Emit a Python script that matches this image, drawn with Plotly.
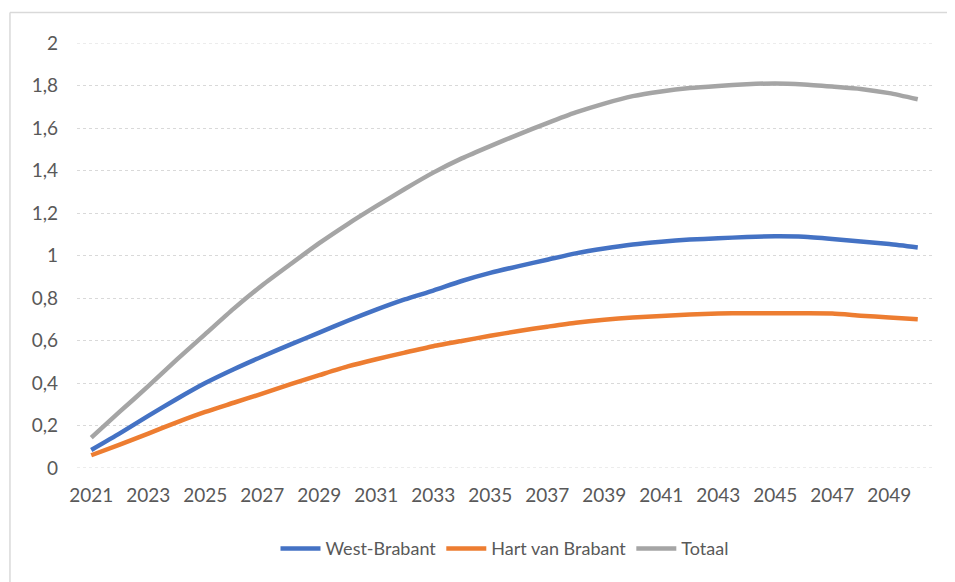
import plotly.graph_objects as go

years = list(range(2021, 2051))

west_brabant = [0.085, 0.163, 0.245, 0.325, 0.40, 0.465, 0.525, 0.582, 0.637, 0.693,
                0.745, 0.793, 0.835, 0.88, 0.918, 0.95, 0.98, 1.01, 1.033, 1.052,
                1.065, 1.075, 1.081, 1.087, 1.09, 1.088, 1.078, 1.066, 1.054, 1.038]

hart_van_brabant = [0.06, 0.11, 0.162, 0.215, 0.264, 0.307, 0.35, 0.395, 0.437, 0.478,
                    0.512, 0.543, 0.573, 0.598, 0.622, 0.645, 0.665, 0.684, 0.698, 0.708,
                    0.715, 0.722, 0.727, 0.728, 0.728, 0.728, 0.727, 0.717, 0.708, 0.70]

totaal = [0.143, 0.265, 0.385, 0.51, 0.63, 0.75, 0.86, 0.96, 1.058, 1.148,
          1.232, 1.313, 1.39, 1.457, 1.515, 1.57, 1.623, 1.673, 1.715, 1.75,
          1.772, 1.788, 1.798, 1.806, 1.81, 1.805, 1.795, 1.784, 1.764, 1.735]

x_ticks = list(range(2021, 2051, 2))
y_ticks = [0, 0.2, 0.4, 0.6, 0.8, 1, 1.2, 1.4, 1.6, 1.8, 2]
y_labels = ['0', '0,2', '0,4', '0,6', '0,8', '1', '1,2', '1,4', '1,6', '1,8', '2']

series = [
    ('West-Brabant', west_brabant, '#4472C4'),
    ('Hart van Brabant', hart_van_brabant, '#ED7D31'),
    ('Totaal', totaal, '#A5A5A5'),
]

fig = go.Figure()
for name, values, colour in series:
    fig.add_trace(go.Scatter(
        x=years, y=values, name=name, mode='lines',
        line=dict(color=colour, width=4.5, shape='spline', smoothing=0.6)
    ))

# gridlines at the very edges of the range are dropped by plotly, draw them as shapes
edge_lines = [
    dict(type='line', xref='paper', yref='y', x0=0, x1=1, y0=v, y1=v, layer='below',
         line=dict(color='#D9D9D9', width=1, dash='dot'))
    for v in (y_ticks[0], y_ticks[-1])
]

# chart border (top and left visible in the reference)
border = [
    dict(type='line', xref='paper', yref='paper',
         x0=-0.0784, x1=1.05, y0=1.072, y1=1.072,
         line=dict(color='#D9D9D9', width=1.5)),
    dict(type='line', xref='paper', yref='paper',
         x0=-0.0784, x1=-0.0784, y0=1.072, y1=-0.3,
         line=dict(color='#D9D9D9', width=1.5)),
]

# the page body adds an 8px offset, margins are set with that in mind
fig.update_layout(
    width=955,
    height=582,
    margin=dict(l=69, r=31, t=35, b=122),
    paper_bgcolor='white',
    plot_bgcolor='white',
    font=dict(family='Lato', size=19, color='#595959'),
    showlegend=True,
    legend=dict(
        orientation='h',
        x=0.5, xanchor='center',
        y=-0.19, yanchor='middle',
        font=dict(size=18, color='#595959'),
        itemwidth=40,
        tracegroupgap=0
    ),
    xaxis=dict(
        range=[2020.5, 2050.5],
        tickvals=x_ticks,
        ticktext=[str(v) for v in x_ticks],
        showgrid=False,
        zeroline=False,
        showline=False,
        ticks='',
        ticklabelstandoff=14,
        fixedrange=True
    ),
    yaxis=dict(
        range=[0, 2],
        tickvals=y_ticks,
        ticktext=y_labels,
        showgrid=True,
        gridcolor='#D9D9D9',
        gridwidth=1,
        griddash='dot',
        zeroline=False,
        showline=False,
        ticks='',
        ticklabelstandoff=18,
        fixedrange=True
    ),
    shapes=edge_lines + border
)

fig.write_html("out.html")
